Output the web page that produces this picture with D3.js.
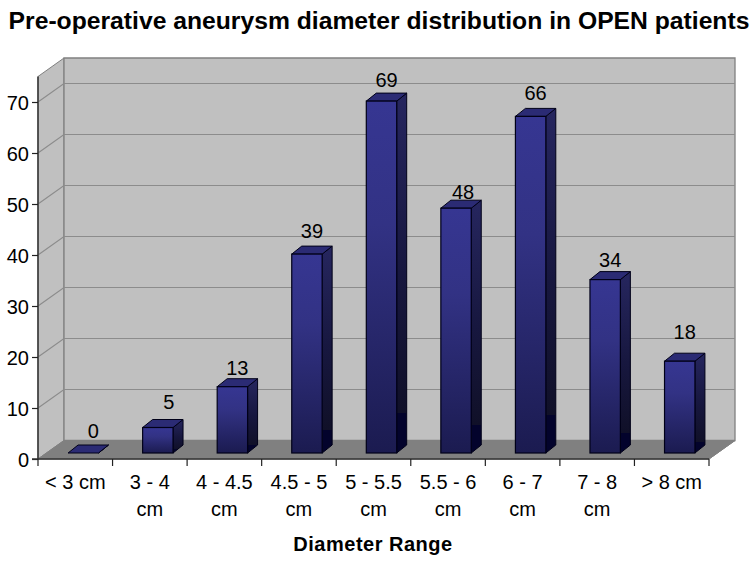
<!DOCTYPE html>
<html><head><meta charset="utf-8">
<script src="https://cdn.jsdelivr.net/npm/d3@7"></script>
<style>html,body{margin:0;padding:0;background:#fff}svg{display:block}text{font-family:"Liberation Sans",Arial,sans-serif;fill:#000}</style>
</head><body><svg id="c" width="754" height="562"></svg>
<script>
const categories = ["< 3 cm","3 - 4 cm","4 - 4.5 cm","4.5 - 5 cm","5 - 5.5 cm","5.5 - 6 cm","6 - 7 cm","7 - 8 cm","> 8 cm"];
const categoryLines = [["< 3 cm"],["3 - 4","cm"],["4 - 4.5","cm"],["4.5 - 5","cm"],["5 - 5.5","cm"],["5.5 - 6","cm"],["6 - 7","cm"],["7 - 8","cm"],["> 8 cm"]];
const values = [0,5,13,39,69,48,66,34,18];
const yTicks = [0,10,20,30,40,50,60,70];
const titleText = "Pre-operative aneurysm diameter distribution in OPEN patients";
const xTitleText = "Diameter Range";

const svg = d3.select("#c");
const W = {l:38, r:709, b:459, t:76.5, dx:26, dy:18.5};
const x = d3.scaleBand().domain(categories).range([W.l,W.r]);
const y = d3.scaleLinear().domain([0,75]).range([W.b,W.t]);
const barW = 30.4, fx = 8, fy = 6, sx = 10, sy = 8;
const labelFont = 20;
// the source chart places its value labels slightly unevenly
const labelShiftX = [5,6,0,0,0,2,0,0,0];
const labelShiftY = [0,-4,3,-1,1,6,-1,2,-7];

const defs = svg.append("defs");
function grad(id, stops){
  const g = defs.append("linearGradient").attr("id",id).attr("x1",0).attr("y1",0).attr("x2",0).attr("y2",1);
  stops.forEach(s=>g.append("stop").attr("offset",s[0]).attr("stop-color",s[1]));
}
grad("front",[[0,"#363692"],[0.35,"#323284"],[1,"#1b1b50"]]);
grad("side",[[0,"#26265f"],[0.5,"#17173f"],[0.89,"#101028"],[0.89,"#03032c"],[1,"#03032c"]]);

const path = pts => "M"+pts.map(p=>p.join(",")).join("L")+"Z";
// walls
svg.append("path").attr("d",path([[W.l,W.t],[W.l+W.dx,W.t-W.dy],[W.l+W.dx,W.b-W.dy],[W.l,W.b]])).attr("fill","#c0c0c0").attr("stroke","#808080").attr("stroke-width",1);
svg.append("path").attr("d",path([[W.l+W.dx,W.t-W.dy],[W.r+W.dx,W.t-W.dy],[W.r+W.dx,W.b-W.dy],[W.l+W.dx,W.b-W.dy]])).attr("fill","#c0c0c0").attr("stroke","#808080").attr("stroke-width",1.3);
svg.append("path").attr("d",path([[W.l,W.b],[W.l+W.dx,W.b-W.dy],[W.r+W.dx,W.b-W.dy],[W.r,W.b]])).attr("fill","#808080").attr("stroke","#808080");
// gridlines
svg.append("g").selectAll("path").data(yTicks.filter(d=>d>0)).join("path")
  .attr("d",d=>`M${W.l},${y(d)}L${W.l+W.dx},${y(d)-W.dy}L${W.r+W.dx},${y(d)-W.dy}`)
  .attr("fill","none").attr("stroke","#8c8c8c").attr("stroke-width",1.2);
// axes
const yAxis = d3.axisLeft(y).tickValues(yTicks).tickSize(6).tickPadding(3);
const gy = svg.append("g").attr("transform",`translate(${W.l},0)`).call(yAxis);
gy.selectAll("text").attr("font-size",labelFont).attr("font-family",'"Liberation Sans",Arial,sans-serif').attr("fill","#000").attr("dy","0.38em");
gy.select(".domain").attr("stroke","#333").attr("stroke-width",1.5).attr("d",`M0,${W.t}V${W.b}`);
gy.selectAll("line").attr("stroke","#222").attr("stroke-width",1.2);
const gb = svg.append("g");
gb.append("line").attr("x1",W.l-6).attr("x2",W.r).attr("y1",W.b).attr("y2",W.b).attr("stroke","#333").attr("stroke-width",1.5);
gb.selectAll("line.t").data(d3.range(categories.length+1)).join("line").attr("class","t")
  .attr("x1",i=>W.l+i*x.step()).attr("x2",i=>W.l+i*x.step()).attr("y1",W.b).attr("y2",W.b+7)
  .attr("stroke","#222").attr("stroke-width",1.2);
gb.append("line").attr("x1",W.r).attr("y1",W.b).attr("x2",W.r+W.dx).attr("y2",W.b-W.dy).attr("stroke","#808080");
// category labels
categories.forEach((c,i)=>{
  const t = svg.append("text").attr("text-anchor","middle").attr("font-size",labelFont);
  categoryLines[i].forEach((l,k)=>t.append("tspan").attr("x",x(c)+x.bandwidth()/2).attr("y",489+k*27).text(l));
});
// bars
const rows = values.map((v,i)=>({v,c:categories[i],i}));
const bars = svg.append("g").selectAll("g").data(rows).join("g");
const left = d=>x(d.c)+x.bandwidth()/2+fx-barW/2;
const base = W.b-fy;
const h = d=>W.b-y(d.v);
bars.append("path").attr("d",d=>{const a=left(d)+barW,t=base-h(d);return path([[a,t],[a+sx,t-sy],[a+sx,base-sy],[a,base]]);})
  .attr("fill","url(#side)").attr("stroke","#000018").attr("stroke-width",1).attr("stroke-linejoin","round");
bars.append("path").attr("d",d=>{const a=left(d),t=base-h(d);return path([[a,t],[a+sx,t-sy],[a+barW+sx,t-sy],[a+barW,t]]);})
  .attr("fill","#2b2b74").attr("stroke","#000018").attr("stroke-width",1).attr("stroke-linejoin","round");
bars.filter(d=>d.v>0).append("rect").attr("x",left).attr("y",d=>base-h(d)).attr("width",barW).attr("height",h)
  .attr("fill","url(#front)").attr("stroke","#000018").attr("stroke-width",1.2);
// value labels
bars.append("text").attr("text-anchor","middle").attr("font-size",labelFont)
  .attr("x",d=>left(d)+(barW+sx)/2+labelShiftX[d.i]).attr("y",d=>base-h(d)-sy-7+labelShiftY[d.i]).text(d=>d.v);
// titles
svg.append("text").attr("x",379).attr("y",29).attr("text-anchor","middle").attr("font-size",24.7).attr("font-weight","bold").text(titleText);
svg.append("text").attr("x",373).attr("y",551).attr("text-anchor","middle").attr("font-size",20).attr("font-weight","bold").attr("letter-spacing",0.5).text(xTitleText);
</script></body></html>
